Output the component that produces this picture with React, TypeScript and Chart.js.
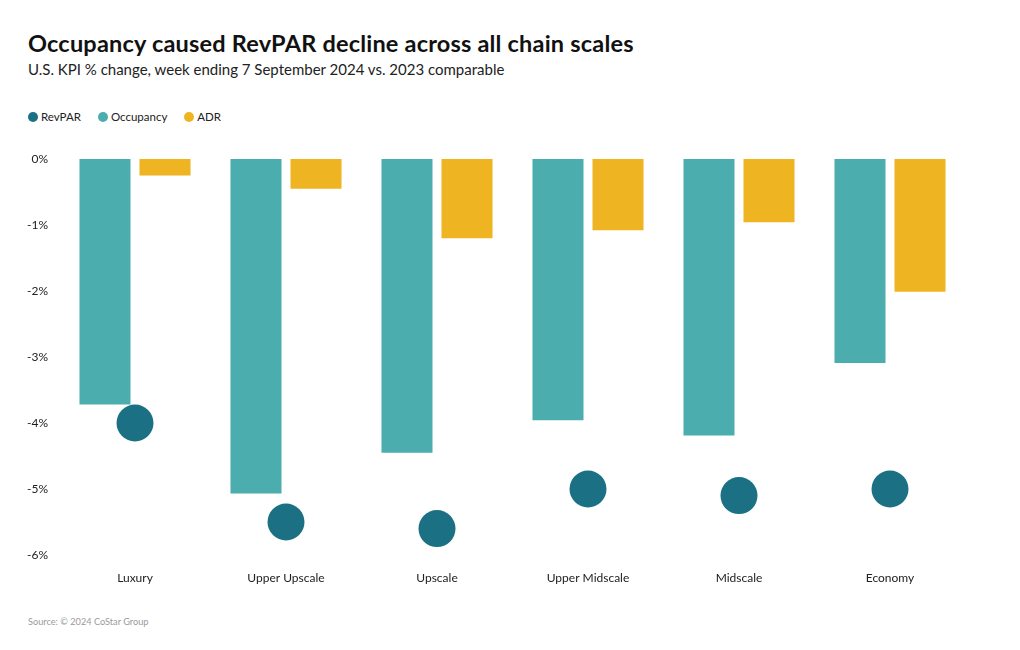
import React, { useEffect, useRef } from "react";
import { Chart, registerables } from "chart.js";

Chart.register(...registerables);

const categories = ["Luxury", "Upper Upscale", "Upscale", "Upper Midscale", "Midscale", "Economy"];
const revparValues = [-4.0, -5.5, -5.6, -5.0, -5.1, -5.0];
const occupancyValues = [-3.72, -5.07, -4.45, -3.96, -4.19, -3.09];
const adrValues = [-0.25, -0.45, -1.2, -1.08, -0.96, -2.01];
const yTicks = [0, -1, -2, -3, -4, -5, -6];

const COLORS = { revpar: "#1B7083", occ: "#4BADAD", adr: "#EEB421" };
const FONT = "Lato, 'Source Sans Pro', sans-serif";

export default function App() {
  const ref = useRef<HTMLCanvasElement | null>(null);

  useEffect(() => {
    if (!ref.current) return;
    const chart = new Chart(ref.current, {
      type: "bar",
      data: {
        labels: categories,
        datasets: [
          {
            type: "line",
            label: "RevPAR",
            data: revparValues,
            showLine: false,
            pointRadius: 18.5,
            pointHoverRadius: 18.5,
            pointBackgroundColor: COLORS.revpar,
            pointBorderWidth: 0,
            backgroundColor: COLORS.revpar,
            borderColor: COLORS.revpar,
            order: 0,
          } as any,
          {
            label: "Occupancy",
            data: occupancyValues,
            backgroundColor: COLORS.occ,
            order: 1,
          },
          {
            label: "ADR",
            data: adrValues,
            backgroundColor: COLORS.adr,
            order: 2,
          },
        ],
      },
      options: {
        animation: false,
        responsive: false,
        maintainAspectRatio: false,
        layout: { padding: { left: 0, right: 54.5, top: 19, bottom: 0 } },
        datasets: {
          bar: { categoryPercentage: 0.795, barPercentage: 0.85 },
        },
        plugins: {
          legend: { display: false },
          title: { display: false },
          tooltip: { enabled: false },
        },
        scales: {
          x: {
            grid: { display: false, drawTicks: false },
            border: { display: false },
            ticks: {
              padding: 16,
              color: "#222",
              font: { family: FONT, size: 12 },
            },
            afterFit: (s: any) => {
              s.height = 40;
            },
          },
          y: {
            min: -6,
            max: 0,
            afterBuildTicks: (s: any) => {
              s.ticks = yTicks.map((v) => ({ value: v }));
            },
            grid: { display: false, drawTicks: false },
            border: { display: false },
            ticks: {
              padding: 11.5,
              color: "#222",
              font: { family: FONT, size: 12 },
              callback: (v: any) => `${v}%`,
            },
            afterFit: (s: any) => {
              s.width = 59.5;
            },
          },
        },
      },
    });
    return () => chart.destroy();
  }, []);

  const legendItems = [
    { label: "RevPAR", color: COLORS.revpar },
    { label: "Occupancy", color: COLORS.occ },
    { label: "ADR", color: COLORS.adr },
  ];

  return (
    <div
      style={{
        position: "absolute",
        left: 0,
        top: 0,
        width: 1020,
        height: 650,
        background: "#fff",
        fontFamily: FONT,
        overflow: "hidden",
      }}
    >
      <div
        style={{
          position: "absolute",
          left: 28,
          top: 28,
          fontSize: 23.5,
          fontWeight: 700,
          letterSpacing: 0.2,
          color: "#111",
          whiteSpace: "nowrap",
          lineHeight: "30px",
        }}
      >
        Occupancy caused RevPAR decline across all chain scales
      </div>
      <div
        style={{
          position: "absolute",
          left: 28,
          top: 59,
          fontSize: 15,
          color: "#222",
          whiteSpace: "nowrap",
          lineHeight: "20px",
        }}
      >
        U.S. KPI % change, week ending 7 September 2024 vs. 2023 comparable
      </div>
      <div
        style={{
          position: "absolute",
          left: 28,
          top: 109,
          display: "flex",
          alignItems: "center",
          fontSize: 11.5,
          color: "#222",
          lineHeight: "16px",
        }}
      >
        {legendItems.map((it) => (
          <div key={it.label} style={{ display: "flex", alignItems: "center", marginRight: 17 }}>
            <span
              style={{
                display: "inline-block",
                width: 10,
                height: 10,
                borderRadius: 5,
                background: it.color,
                marginRight: 3,
              }}
            />
            {it.label}
          </div>
        ))}
      </div>
      <canvas
        ref={ref}
        width={1020}
        height={455}
        style={{ position: "absolute", left: 0, top: 140, width: 1020, height: 455 }}
      />
      <div
        style={{
          position: "absolute",
          left: 28,
          top: 615,
          fontSize: 9.2,
          color: "#9a9a9a",
          whiteSpace: "nowrap",
          lineHeight: "14px",
        }}
      >
        Source: © 2024 CoStar Group
      </div>
    </div>
  );
}
